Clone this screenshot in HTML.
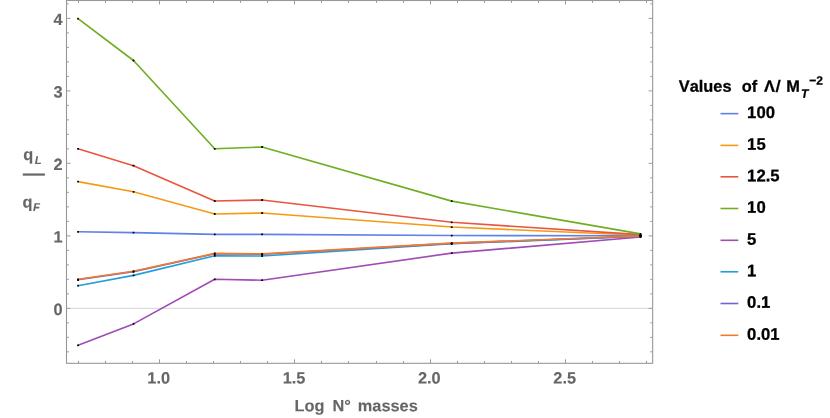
<!DOCTYPE html>
<html><head><meta charset="utf-8"><title>plot</title>
<style>html,body{margin:0;padding:0;background:#fff;}svg{display:block;will-change:transform;opacity:0.999;}text{font-family:"Liberation Sans",sans-serif;font-weight:bold;font-kerning:none;}</style></head>
<body>
<svg width="830" height="418" viewBox="0 0 830 418">
<rect width="830" height="418" fill="#fff"/>
<line x1="66.5" y1="308.35" x2="652.65" y2="308.35" stroke="#d6d6d6" stroke-width="1"/>
<polyline points="78.05,231.80 133.50,232.65 214.75,234.40 262.10,234.30 451.75,235.55 640.55,235.70" fill="none" stroke="#5E81EA" stroke-width="1.65" stroke-linejoin="round" stroke-linecap="butt"/>
<polyline points="78.05,181.60 133.50,191.80 214.75,213.98 262.10,213.00 451.75,227.05 640.55,235.20" fill="none" stroke="#F69A13" stroke-width="1.65" stroke-linejoin="round" stroke-linecap="butt"/>
<polyline points="78.05,148.80 133.50,165.70 214.75,200.96 262.10,200.00 451.75,222.30 640.55,234.60" fill="none" stroke="#E9553F" stroke-width="1.65" stroke-linejoin="round" stroke-linecap="butt"/>
<polyline points="78.05,18.70 133.50,60.50 214.75,148.80 262.10,147.00 451.75,201.10 640.55,233.90" fill="none" stroke="#6FAE22" stroke-width="1.65" stroke-linejoin="round" stroke-linecap="butt"/>
<polyline points="78.05,345.30 133.50,323.90 214.75,279.30 262.10,280.20 451.75,253.10 640.55,237.00" fill="none" stroke="#A14BB5" stroke-width="1.65" stroke-linejoin="round" stroke-linecap="butt"/>
<polyline points="78.05,285.70 133.50,275.40 214.75,255.80 262.10,256.00 451.75,243.80 640.55,236.25" fill="none" stroke="#229EDA" stroke-width="1.65" stroke-linejoin="round" stroke-linecap="butt"/>
<polyline points="78.05,279.70 133.50,271.60 214.75,253.80 262.10,254.30 451.75,243.40 640.55,236.10" fill="none" stroke="#7263CF" stroke-width="1.65" stroke-linejoin="round" stroke-linecap="butt"/>
<polyline points="78.05,279.30 133.50,271.20 214.75,253.40 262.10,253.90 451.75,243.10 640.55,236.00" fill="none" stroke="#F07B2F" stroke-width="1.65" stroke-linejoin="round" stroke-linecap="butt"/>
<g fill="#000">
<rect x="77.10" y="230.88" width="1.9" height="1.84" rx="0.45"/>
<rect x="132.55" y="231.73" width="1.9" height="1.84" rx="0.45"/>
<rect x="213.80" y="233.48" width="1.9" height="1.84" rx="0.45"/>
<rect x="261.15" y="233.38" width="1.9" height="1.84" rx="0.45"/>
<rect x="450.80" y="234.63" width="1.9" height="1.84" rx="0.45"/>
<rect x="639.60" y="234.78" width="1.9" height="1.84" rx="0.45"/>
<rect x="77.10" y="180.68" width="1.9" height="1.84" rx="0.45"/>
<rect x="132.55" y="190.88" width="1.9" height="1.84" rx="0.45"/>
<rect x="213.80" y="213.06" width="1.9" height="1.84" rx="0.45"/>
<rect x="261.15" y="212.08" width="1.9" height="1.84" rx="0.45"/>
<rect x="450.80" y="226.13" width="1.9" height="1.84" rx="0.45"/>
<rect x="639.60" y="234.28" width="1.9" height="1.84" rx="0.45"/>
<rect x="77.10" y="147.88" width="1.9" height="1.84" rx="0.45"/>
<rect x="132.55" y="164.78" width="1.9" height="1.84" rx="0.45"/>
<rect x="213.80" y="200.04" width="1.9" height="1.84" rx="0.45"/>
<rect x="261.15" y="199.08" width="1.9" height="1.84" rx="0.45"/>
<rect x="450.80" y="221.38" width="1.9" height="1.84" rx="0.45"/>
<rect x="639.60" y="233.68" width="1.9" height="1.84" rx="0.45"/>
<rect x="77.10" y="17.78" width="1.9" height="1.84" rx="0.45"/>
<rect x="132.55" y="59.58" width="1.9" height="1.84" rx="0.45"/>
<rect x="213.80" y="147.88" width="1.9" height="1.84" rx="0.45"/>
<rect x="261.15" y="146.08" width="1.9" height="1.84" rx="0.45"/>
<rect x="450.80" y="200.18" width="1.9" height="1.84" rx="0.45"/>
<rect x="639.60" y="232.98" width="1.9" height="1.84" rx="0.45"/>
<rect x="77.10" y="344.38" width="1.9" height="1.84" rx="0.45"/>
<rect x="132.55" y="322.98" width="1.9" height="1.84" rx="0.45"/>
<rect x="213.80" y="278.38" width="1.9" height="1.84" rx="0.45"/>
<rect x="261.15" y="279.28" width="1.9" height="1.84" rx="0.45"/>
<rect x="450.80" y="252.18" width="1.9" height="1.84" rx="0.45"/>
<rect x="639.60" y="236.08" width="1.9" height="1.84" rx="0.45"/>
<rect x="77.10" y="284.78" width="1.9" height="1.84" rx="0.45"/>
<rect x="132.55" y="274.48" width="1.9" height="1.84" rx="0.45"/>
<rect x="213.80" y="254.88" width="1.9" height="1.84" rx="0.45"/>
<rect x="261.15" y="255.08" width="1.9" height="1.84" rx="0.45"/>
<rect x="450.80" y="242.88" width="1.9" height="1.84" rx="0.45"/>
<rect x="639.60" y="235.33" width="1.9" height="1.84" rx="0.45"/>
<rect x="77.10" y="279.13" width="1.9" height="1.84" rx="0.45"/>
<rect x="132.55" y="271.03" width="1.9" height="1.84" rx="0.45"/>
<rect x="213.80" y="253.23" width="1.9" height="1.84" rx="0.45"/>
<rect x="261.15" y="253.73" width="1.9" height="1.84" rx="0.45"/>
<rect x="450.80" y="242.83" width="1.9" height="1.84" rx="0.45"/>
<rect x="639.60" y="235.18" width="1.9" height="1.84" rx="0.45"/>
<rect x="77.10" y="278.38" width="1.9" height="1.84" rx="0.45"/>
<rect x="132.55" y="270.28" width="1.9" height="1.84" rx="0.45"/>
<rect x="213.80" y="252.48" width="1.9" height="1.84" rx="0.45"/>
<rect x="261.15" y="252.98" width="1.9" height="1.84" rx="0.45"/>
<rect x="450.80" y="242.18" width="1.9" height="1.84" rx="0.45"/>
<rect x="639.60" y="235.08" width="1.9" height="1.84" rx="0.45"/>
</g>
<path d="M66.5 351.84h2.4 M652.65 351.84h-2.4 M66.5 337.35h2.4 M652.65 337.35h-2.4 M66.5 322.85h2.4 M652.65 322.85h-2.4 M66.5 308.35h4.0 M652.65 308.35h-4.0 M66.5 293.85h2.4 M652.65 293.85h-2.4 M66.5 279.35h2.4 M652.65 279.35h-2.4 M66.5 264.86h2.4 M652.65 264.86h-2.4 M66.5 250.36h2.4 M652.65 250.36h-2.4 M66.5 235.86h4.0 M652.65 235.86h-4.0 M66.5 221.36h2.4 M652.65 221.36h-2.4 M66.5 206.86h2.4 M652.65 206.86h-2.4 M66.5 192.37h2.4 M652.65 192.37h-2.4 M66.5 177.87h2.4 M652.65 177.87h-2.4 M66.5 163.37h4.0 M652.65 163.37h-4.0 M66.5 148.87h2.4 M652.65 148.87h-2.4 M66.5 134.37h2.4 M652.65 134.37h-2.4 M66.5 119.88h2.4 M652.65 119.88h-2.4 M66.5 105.38h2.4 M652.65 105.38h-2.4 M66.5 90.88h4.0 M652.65 90.88h-4.0 M66.5 76.38h2.4 M652.65 76.38h-2.4 M66.5 61.88h2.4 M652.65 61.88h-2.4 M66.5 47.39h2.4 M652.65 47.39h-2.4 M66.5 32.89h2.4 M652.65 32.89h-2.4 M66.5 18.39h4.0 M652.65 18.39h-4.0 M66.5 3.89h2.4 M652.65 3.89h-2.4 M78.50 363.3v-2.4 M78.50 0.5v2.4 M105.50 363.3v-2.4 M105.50 0.5v2.4 M132.50 363.3v-2.4 M132.50 0.5v2.4 M159.50 363.3v-4.0 M159.50 0.5v4.0 M186.50 363.3v-2.4 M186.50 0.5v2.4 M213.50 363.3v-2.4 M213.50 0.5v2.4 M240.50 363.3v-2.4 M240.50 0.5v2.4 M267.50 363.3v-2.4 M267.50 0.5v2.4 M294.50 363.3v-4.0 M294.50 0.5v4.0 M321.50 363.3v-2.4 M321.50 0.5v2.4 M348.50 363.3v-2.4 M348.50 0.5v2.4 M376.50 363.3v-2.4 M376.50 0.5v2.4 M403.50 363.3v-2.4 M403.50 0.5v2.4 M430.50 363.3v-4.0 M430.50 0.5v4.0 M457.50 363.3v-2.4 M457.50 0.5v2.4 M484.50 363.3v-2.4 M484.50 0.5v2.4 M511.50 363.3v-2.4 M511.50 0.5v2.4 M538.50 363.3v-2.4 M538.50 0.5v2.4 M565.50 363.3v-4.0 M565.50 0.5v4.0 M592.50 363.3v-2.4 M592.50 0.5v2.4 M619.50 363.3v-2.4 M619.50 0.5v2.4 M646.50 363.3v-2.4 M646.50 0.5v2.4" stroke="#9c9c9c" stroke-width="1" fill="none"/>
<rect x="66.5" y="0.5" width="586.15" height="362.8" fill="none" stroke="#989898" stroke-width="1.1"/>
<g fill="#666666" stroke="#666666" stroke-width="0.12" font-size="16.35px">
<text transform="translate(62.50 315.05) rotate(0.03)" font-size="16.35px" text-anchor="end">0</text>
<text transform="translate(62.50 242.56) rotate(0.03)" font-size="16.35px" text-anchor="end">1</text>
<text transform="translate(62.50 170.07) rotate(0.03)" font-size="16.35px" text-anchor="end">2</text>
<text transform="translate(62.50 97.58) rotate(0.03)" font-size="16.35px" text-anchor="end">3</text>
<text transform="translate(62.50 25.09) rotate(0.03)" font-size="16.35px" text-anchor="end">4</text>
<text transform="translate(158.67 383.50) rotate(0.03)" font-size="16.35px" text-anchor="middle">1.0</text>
<text transform="translate(294.00 383.50) rotate(0.03)" font-size="16.35px" text-anchor="middle">1.5</text>
<text transform="translate(429.34 383.50) rotate(0.03)" font-size="16.35px" text-anchor="middle">2.0</text>
<text transform="translate(564.68 383.50) rotate(0.03)" font-size="16.35px" text-anchor="middle">2.5</text>
<text transform="translate(294.60 411.30) rotate(0.03)">Log</text><text transform="translate(332.40 411.30) rotate(0.03)">N°</text><text transform="translate(357.80 411.30) rotate(0.03)">masses</text>
<text transform="translate(23.30 160.00) rotate(0.03)">q</text><text transform="translate(34.75 164.00) rotate(0.03)" font-size="11.3px" font-style="italic" stroke-width="0.1">L</text>
<text transform="translate(22.40 207.55) rotate(0.03)">q</text><text transform="translate(33.05 210.90) rotate(0.03)" font-size="11.3px" font-style="italic" stroke-width="0.1">F</text>
</g>
<rect x="22.8" y="173.45" width="22.1" height="2.2" fill="#666666"/>
<g fill="#000" stroke="#000" stroke-width="0.27" font-size="16.35px">
<text transform="translate(678.80 91.70) rotate(0.03)">Values</text><text transform="translate(741.70 91.70) rotate(0.03)">of</text><text transform="translate(764.10 91.70) rotate(0.03)">Λ</text><text transform="translate(775.60 91.70) rotate(0.03) skewX(-3.5)">/</text><text transform="translate(786.35 91.70) rotate(0.03)">M</text>
<text transform="translate(801.00 97.70) rotate(0.03)" font-size="12px" font-style="italic">T</text><text transform="translate(809.15 84.60) rotate(0.03)" font-size="12px">−2</text>
<line x1="720.5" y1="113.64" x2="738.3" y2="113.64" stroke="#5E81EA" stroke-width="1.6"/>
<text transform="translate(747.10 117.99) rotate(0.03)" font-size="16.7px">100</text>
<line x1="720.5" y1="145.40" x2="738.3" y2="145.40" stroke="#F69A13" stroke-width="1.6"/>
<text transform="translate(747.10 149.75) rotate(0.03)" font-size="16.7px">15</text>
<line x1="720.5" y1="176.80" x2="738.3" y2="176.80" stroke="#E9553F" stroke-width="1.6"/>
<text transform="translate(747.10 181.15) rotate(0.03)" font-size="16.7px">12.5</text>
<line x1="720.5" y1="208.50" x2="738.3" y2="208.50" stroke="#6FAE22" stroke-width="1.6"/>
<text transform="translate(747.10 212.85) rotate(0.03)" font-size="16.7px">10</text>
<line x1="720.5" y1="240.30" x2="738.3" y2="240.30" stroke="#A14BB5" stroke-width="1.6"/>
<text transform="translate(747.10 244.65) rotate(0.03)" font-size="16.7px">5</text>
<line x1="720.5" y1="271.80" x2="738.3" y2="271.80" stroke="#229EDA" stroke-width="1.6"/>
<text transform="translate(747.10 276.15) rotate(0.03)" font-size="16.7px">1</text>
<line x1="720.5" y1="303.50" x2="738.3" y2="303.50" stroke="#7263CF" stroke-width="1.6"/>
<text transform="translate(747.10 307.85) rotate(0.03)" font-size="16.7px">0.1</text>
<line x1="720.5" y1="335.30" x2="738.3" y2="335.30" stroke="#F07B2F" stroke-width="1.6"/>
<text transform="translate(747.10 339.65) rotate(0.03)" font-size="16.7px">0.01</text>
</g>
</svg>
</body></html>
